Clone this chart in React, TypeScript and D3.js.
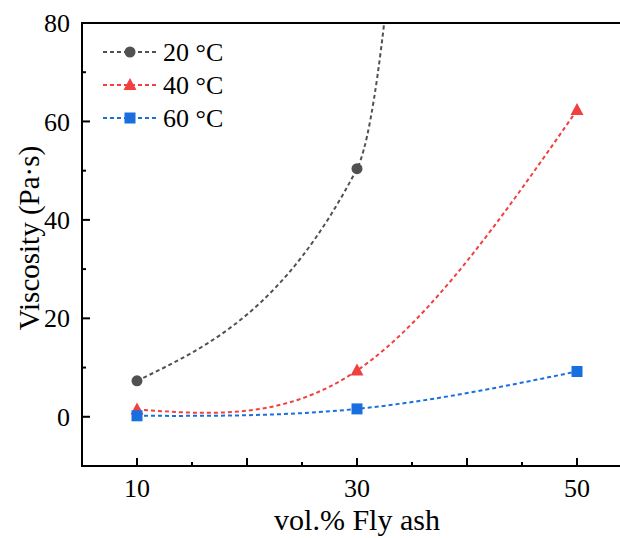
import React from "react";
import * as d3 from "d3";

// vol.% fly ash and viscosity (Pa·s) per temperature
const fractions = [10, 30, 50];
const visc20 = [7.3, 50.4, 1000]; // last point is far above the axis range
const visc40 = [1.5, 9.4, 62.3];
const visc60 = [0.2, 1.6, 9.2];
const seriesNames = ["20 \u00b0C", "40 \u00b0C", "60 \u00b0C"];
const xTickLabels = [10, 30, 50];
const yTickLabels = [0, 20, 40, 60, 80];

const W = 620;
const H = 538;
const margin = { top: 23, left: 82, bottom: 72, right: -12 };
const FONT = '"Liberation Serif", "Times New Roman", "DejaVu Serif", serif';

const colors = ["#515151", "#F14040", "#1A6FDF"];
const shapes = ["circle", "triangle", "square"];
const curves = [d3.curveMonotoneX, d3.curveNatural, d3.curveNatural];

function Marker({ shape, x, y, color }) {
  if (shape === "circle") return <circle cx={x} cy={y} r={5.5} fill={color} />;
  if (shape === "triangle")
    return <path d={`M${x},${y - 7}L${x + 6.5},${y + 5}L${x - 6.5},${y + 5}Z`} fill={color} />;
  return <rect x={x - 5.5} y={y - 5.5} width={11} height={11} fill={color} />;
}

export default function App() {
  const x = d3.scaleLinear().domain([5, 55]).range([margin.left, W - margin.right]);
  const y = d3.scaleLinear().domain([-10, 80]).range([H - margin.bottom, margin.top]);
  const x0 = margin.left;
  const x1 = W - margin.right;
  const y0 = H - margin.bottom;
  const y1 = margin.top;

  const series = [visc20, visc40, visc60].map((vals, i) => ({
    name: seriesNames[i],
    color: colors[i],
    shape: shapes[i],
    curve: curves[i],
    points: fractions.map((f, j) => [f, vals[j]]),
  }));

  const xMajor = d3.range(10, 51, 10);
  const xMinor = d3.range(15, 50, 10);
  const yMinor = d3.range(-10, 80, 20).filter(v => v > -10);
  const txt = { fontFamily: FONT };

  return (
    <svg
      width={W}
      height={H}
      style={{ position: "absolute", left: 0, top: 0, background: "#fff", fontFamily: FONT }}
    >
      <defs>
        <clipPath id="plot">
          <rect x={x0} y={y1} width={x1 - x0} height={y0 - y1} />
        </clipPath>
      </defs>

      {/* curves */}
      <g clipPath="url(#plot)">
        {series.map(s => {
          const line = d3
            .line()
            .x(d => x(d[0]))
            .y(d => y(d[1]))
            .curve(s.curve);
          return (
            <path
              key={s.name}
              d={line(s.points)}
              fill="none"
              stroke={s.color}
              strokeWidth={2}
              strokeDasharray="4,3"
            />
          );
        })}
        {series.map(s =>
          s.points.map((p, j) => (
            <Marker key={s.name + j} shape={s.shape} x={x(p[0])} y={y(p[1])} color={s.color} />
          ))
        )}
      </g>

      {/* frame */}
      <rect x={x0} y={y1} width={x1 - x0} height={y0 - y1} fill="none" stroke="#000" strokeWidth={2} />

      {/* x ticks */}
      {xMajor.map(v => (
        <line key={"xM" + v} x1={x(v)} x2={x(v)} y1={y0} y2={y0 - 8} stroke="#000" strokeWidth={2} />
      ))}
      {xMinor.map(v => (
        <line key={"xm" + v} x1={x(v)} x2={x(v)} y1={y0} y2={y0 - 4} stroke="#000" strokeWidth={2} />
      ))}
      {xTickLabels.map(v => (
        <text key={"xl" + v} x={x(v)} y={497} textAnchor="middle" fontSize={26} style={txt}>
          {v}
        </text>
      ))}

      {/* y ticks */}
      {yTickLabels.map(v => (
        <line key={"yM" + v} x1={x0} x2={x0 + 8} y1={y(v)} y2={y(v)} stroke="#000" strokeWidth={2} />
      ))}
      {yMinor.map(v => (
        <line key={"ym" + v} x1={x0} x2={x0 + 4} y1={y(v)} y2={y(v)} stroke="#000" strokeWidth={2} />
      ))}
      {yTickLabels.map(v => (
        <text key={"yl" + v} x={70} y={y(v)} dy="0.35em" textAnchor="end" fontSize={26} style={txt}>
          {v}
        </text>
      ))}

      {/* axis titles */}
      <text x={(x(10) + x(50)) / 2} y={530} textAnchor="middle" fontSize={30} style={txt}>
        vol.% Fly ash
      </text>
      <text
        transform={`translate(39,${238}) rotate(-90)`}
        textAnchor="middle"
        fontSize={29}
        style={txt}
      >
        Viscosity (Pa·s)
      </text>

      {/* legend */}
      {series.map((s, i) => {
        const ly = 52 + i * 33;
        return (
          <g key={"lg" + i}>
            <line x1={103} x2={157} y1={ly} y2={ly} stroke={s.color} strokeWidth={2} strokeDasharray="4,3" />
            <Marker shape={s.shape} x={130} y={ly} color={s.color} />
            <text x={163} y={ly} dy="0.35em" fontSize={26} style={txt}>
              {s.name}
            </text>
          </g>
        );
      })}
    </svg>
  );
}
